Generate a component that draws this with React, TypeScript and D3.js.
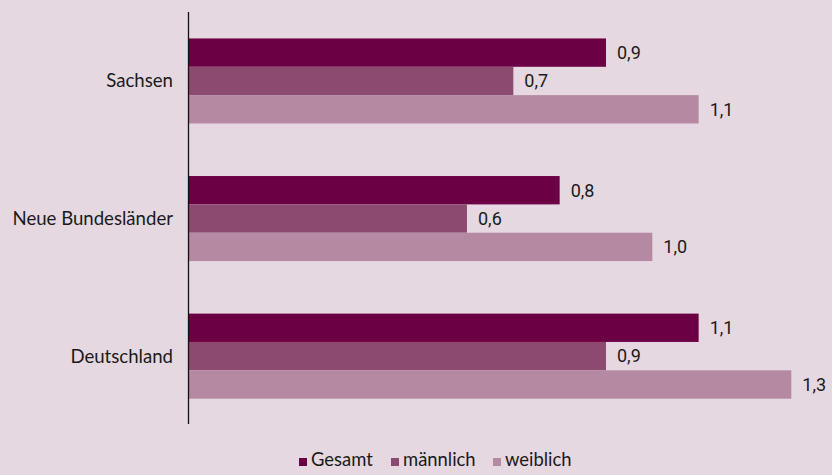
import React from "react";
import * as d3 from "d3";

const categories = ["Sachsen", "Neue Bundesländer", "Deutschland"];
const seriesNames = ["Gesamt", "männlich", "weiblich"];
const gesamt = [0.9, 0.8, 1.1];
const maennlich = [0.7, 0.6, 0.9];
const weiblich = [1.1, 1.0, 1.3];
const colors = ["#6b0044", "#8d4a71", "#b689a3"];

const W = 832;
const H = 475;
const BG = "#e5d8e1";

export default function App() {
  const series = [gesamt, maennlich, weiblich];
  const x = d3.scaleLinear().domain([0, 1.3]).range([189, 791.3]);
  const y = d3
    .scaleBand<string>()
    .domain(categories)
    .range([12.3, 424.8])
    .paddingInner(0.382)
    .paddingOuter(0.19);
  const inner = d3
    .scaleBand<string>()
    .domain(seriesNames)
    .range([0, y.bandwidth()]);
  const fmt = (v: number) => d3.format(".1f")(v).replace(".", ",");
  const catFont = "Lato, sans-serif";
  const valFont = "Roboto, sans-serif";

  const legendX = [299, 391, 493];

  return (
    <svg
      width={W}
      height={H}
      style={{ position: "absolute", left: 0, top: 0, background: BG }}
    >
      <rect x={0} y={0} width={W} height={H} fill={BG} />
      {categories.map((c, ci) => (
        <g key={c}>
          {seriesNames.map((s, si) => {
            const v = series[si][ci];
            const yy = (y(c) as number) + (inner(s) as number);
            return (
              <g key={s}>
                <rect
                  x={x(0)}
                  y={yy}
                  width={x(v) - x(0)}
                  height={inner.bandwidth()}
                  fill={colors[si]}
                />
                <text
                  x={x(v) + 11}
                  y={yy + inner.bandwidth() / 2}
                  dy="0.35em"
                  fontFamily={valFont}
                  fontSize={18}
                  fill="#1a1a1a"
                >
                  {fmt(v)}
                </text>
              </g>
            );
          })}
          <text
            x={173}
            y={(y(c) as number) + y.bandwidth() / 2}
            dy="0.35em"
            textAnchor="end"
            fontFamily={catFont}
            fontSize={18.6}
            fill="#1a1a1a"
          >
            {c}
          </text>
        </g>
      ))}
      <line x1={188.5} x2={188.5} y1={12} y2={424} stroke="#111" strokeWidth={1.3} />
      {seriesNames.map((s, si) => (
        <g key={s}>
          <rect x={legendX[si]} y={458} width={8} height={8} fill={colors[si]} />
          <text
            x={legendX[si] + 12}
            y={466}
            fontFamily={catFont}
            fontSize={18.4}
            fill="#1a1a1a"
          >
            {s}
          </text>
        </g>
      ))}
    </svg>
  );
}
